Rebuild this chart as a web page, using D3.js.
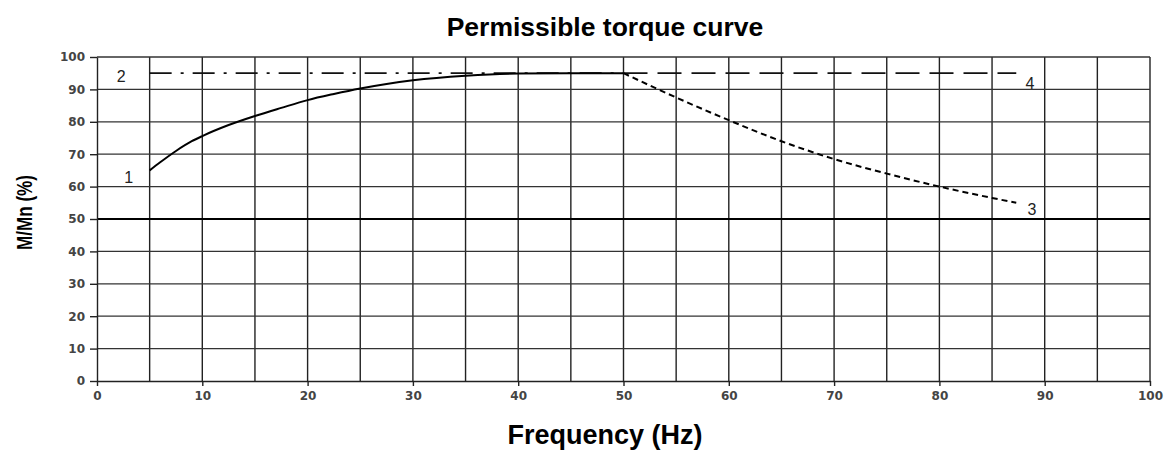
<!DOCTYPE html>
<html>
<head>
<meta charset="utf-8">
<script src="https://cdn.jsdelivr.net/npm/d3@7"></script>
<style>
  body { margin: 0; background: #fff; }
  svg text { font-family: "Liberation Sans", Arial, sans-serif; }
</style>
</head>
<body>
<div id="chart"></div>
<script>
// Data
var xTicks = [0, 10, 20, 30, 40, 50, 60, 70, 80, 90, 100];
var yTicks = [0, 10, 20, 30, 40, 50, 60, 70, 80, 90, 100];
var vGrid = d3.range(5, 101, 5);

// curve 1: permissible torque, self-ventilated motor
var curve1Hz = [5, 6, 7.5, 9, 10, 12.5, 15, 17.5, 20, 22.5, 25, 27.5, 30, 35, 40, 45, 50];
var curve1Pct = [65, 67.5, 71, 74, 75.6, 79, 81.8, 84.3, 86.7, 88.6, 90.3, 91.7, 92.8, 94.2, 94.9, 95, 95];
// curve 3: field weakening above 50 Hz
var curve3Hz = [50, 55, 60, 65, 70, 75, 80, 85, 87.3];
var curve3Pct = [95, 87.5, 80.5, 74, 68.5, 64, 60, 56.5, 55];
// line 2 and line 4: 95 % limit
var line2Hz = [5, 50], line2Pct = [95, 95];
var line4Hz = [50, 87.3], line4Pct = [95, 95];
var labelText = ["1", "2", "3", "4"];
var labelHz = [3, 2.3, 88.8, 88.6];
var labelPct = [61, 92.3, 51.3, 90];

var margin = { left: 97, top: 57, right: 16, bottom: 69 },
    totalW = 1166, totalH = 450,
    width = totalW - margin.left - margin.right,
    height = totalH - margin.top - margin.bottom;

var svg = d3.select("#chart").append("svg")
    .attr("width", totalW)
    .attr("height", totalH);

var g = svg.append("g")
    .attr("transform", "translate(" + margin.left + "," + margin.top + ")");

var x = d3.scaleLinear().domain([0, 100]).range([0, width]);
var y = d3.scaleLinear().domain([0, 100]).range([height, 0]);

// Grid
g.selectAll("line.vgrid")
    .data(vGrid)
    .enter().append("line")
    .attr("class", "vgrid")
    .attr("x1", function(d) { return x(d); })
    .attr("x2", function(d) { return x(d); })
    .attr("y1", 0)
    .attr("y2", height)
    .style("stroke", "#222")
    .style("stroke-width", 1.4);

g.selectAll("line.hgrid")
    .data(yTicks.filter(function(d) { return d > 0; }))
    .enter().append("line")
    .attr("class", "hgrid")
    .attr("x1", 0)
    .attr("x2", width)
    .attr("y1", function(d) { return y(d); })
    .attr("y2", function(d) { return y(d); })
    .style("stroke", function(d) { return d === 50 ? "#000" : "#333"; })
    .style("stroke-width", function(d) { return d === 50 ? 2 : 1.3; });

// Axes
var xAxis = g.append("g")
    .attr("transform", "translate(0," + height + ")")
    .call(d3.axisBottom(x).tickValues(xTicks).tickSize(5).tickSizeOuter(0).tickPadding(5));
var yAxis = g.append("g")
    .call(d3.axisLeft(y).tickValues(yTicks).tickSize(7).tickSizeOuter(0).tickPadding(5));

[xAxis, yAxis].forEach(function(a) {
    a.select(".domain").style("stroke", "#222").style("stroke-width", 1.4);
    a.selectAll(".tick line").style("stroke", "#222").style("stroke-width", 1.4);
    a.selectAll(".tick text")
        .style("font-family", "'DejaVu Sans', Verdana, sans-serif")
        .style("font-size", "12px")
        .style("font-weight", "bold")
        .style("fill", "#444");
});

// Lines
var line = d3.line()
    .x(function(d) { return x(d[0]); })
    .y(function(d) { return y(d[1]); })
    .curve(d3.curveMonotoneX);

function pairs(xs, ys) { return xs.map(function(v, i) { return [v, ys[i]]; }); }

g.append("path")
    .attr("d", line(pairs(line2Hz, line2Pct)))
    .style("fill", "none").style("stroke", "#111").style("stroke-width", 1.8)
    .style("stroke-dasharray", "22,9,3,9");

g.append("path")
    .attr("d", line(pairs(line4Hz, line4Pct)))
    .style("fill", "none").style("stroke", "#111").style("stroke-width", 1.8)
    .style("stroke-dasharray", "24,10");

g.append("path")
    .attr("d", line(pairs(curve1Hz, curve1Pct)))
    .style("fill", "none").style("stroke", "#000").style("stroke-width", 2);

g.append("path")
    .attr("d", line(pairs(curve3Hz, curve3Pct)))
    .style("fill", "none").style("stroke", "#000").style("stroke-width", 2)
    .style("stroke-dasharray", "6,4");

// Curve numbers
g.selectAll("text.num")
    .data(labelText)
    .enter().append("text")
    .attr("class", "num")
    .attr("x", function(d, i) { return x(labelHz[i]); })
    .attr("y", function(d, i) { return y(labelPct[i]); })
    .attr("text-anchor", "middle")
    .style("font-size", "16px")
    .style("fill", "#222")
    .text(function(d) { return d; });

// Titles
svg.append("text")
    .attr("x", 605).attr("y", 36)
    .attr("text-anchor", "middle")
    .style("font-size", "26.5px").style("font-weight", "bold")
    .text("Permissible torque curve");

svg.append("text")
    .attr("x", 605).attr("y", 444)
    .attr("text-anchor", "middle")
    .style("font-size", "27px").style("font-weight", "bold")
    .text("Frequency (Hz)");

svg.append("text")
    .attr("transform", "translate(32,212.5) rotate(-90)")
    .attr("text-anchor", "middle")
    .style("font-size", "22px").style("font-weight", "bold")
    .attr("textLength", 75).attr("lengthAdjust", "spacingAndGlyphs")
    .text("M/Mn (%)");
</script>
</body>
</html>
